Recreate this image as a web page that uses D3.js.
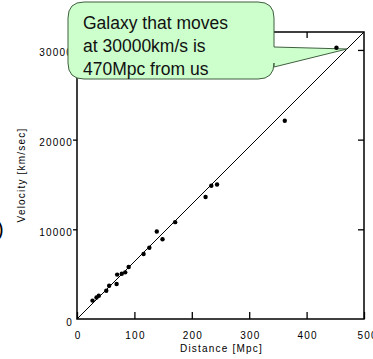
<!DOCTYPE html>
<html>
<head>
<meta charset="utf-8">
<script src="https://cdn.jsdelivr.net/npm/d3@7"></script>
<style>
  body { margin: 0; background: #fff; }
  svg { display: block; }
  .eje text { font-family: "Liberation Sans", Arial, sans-serif; font-size: 10px; letter-spacing: 1.2px; fill: #000; }
  .etiqueta { font-family: "Liberation Sans", Arial, sans-serif; font-size: 10px; letter-spacing: 1.2px; fill: #000; }
  .globo text { font-family: "Liberation Sans", Arial, sans-serif; font-size: 17.5px; fill: #111; }
</style>
</head>
<body>
<svg id="grafico" width="373" height="359"></svg>
<script>
// datos (distancia en Mpc, velocidad en km/s)
const distancia = [27, 34, 38, 51, 56, 69, 70, 78, 84, 90, 116, 126, 139, 149, 171, 224, 234, 244, 362, 452];
const velocidad = [2050, 2400, 2600, 3150, 3700, 3900, 4950, 5050, 5200, 5800, 7250, 7950, 9750, 8900, 10800, 13600, 14850, 15000, 22100, 30250];

const linea_hubble = [[0, 0], [500, 32000]];

const ticks_x = [0, 100, 200, 300, 400, 500];
const ticks_y = [0, 10000, 20000, 30000];

const texto_globo = ['Galaxy that moves', 'at 30000km/s is', '470Mpc from us'];

const margen = {top: 32, right: 9, bottom: 40, left: 77};
const ancho = 373, alto = 359;

const svg = d3.select('#grafico');

const x = d3.scaleLinear().domain([0, 500]).range([margen.left, ancho - margen.right]);
const y = d3.scaleLinear().domain([0, 32000]).range([alto - margen.bottom, margen.top]);

// ejes
const ejeX = svg.append('g')
    .attr('class', 'eje')
    .attr('transform', `translate(0,${y(0)})`)
    .call(d3.axisBottom(x).tickValues(ticks_x).tickSize(-7).tickPadding(13).tickFormat(d3.format('d')));
ejeX.selectAll('.tick text').attr('text-anchor', d => d == 500 ? 'start' : 'middle')
    .attr('dx', d => d == 500 ? -7 : 0.6);

const ejeY = svg.append('g')
    .attr('class', 'eje')
    .attr('transform', `translate(${x(0)},0)`)
    .call(d3.axisLeft(y).tickValues(ticks_y).tickSize(4).tickPadding(0).tickFormat(d3.format('d')));
ejeY.selectAll('.tick text').attr('dy', '0.6em');
ejeY.selectAll('.tick').filter(d => d == 0).select('line').remove();

svg.append('g')
    .attr('transform', `translate(0,${y(32000)})`)
    .call(d3.axisTop(x).tickValues(ticks_x.slice(1, -1)).tickSize(-6).tickFormat(''));

svg.append('g')
    .attr('transform', `translate(${x(500)},0)`)
    .call(d3.axisRight(y).tickValues(ticks_y.slice(1)).tickSize(-6).tickFormat(''));

svg.selectAll('.domain').remove();
svg.selectAll('.tick line').attr('stroke', '#000').attr('stroke-width', 1.3);

// caja
svg.append('rect')
    .attr('x', x(0)).attr('y', y(32000))
    .attr('width', x(500) - x(0)).attr('height', y(0) - y(32000))
    .attr('fill', 'none').attr('stroke', '#000').attr('stroke-width', 1.5);

// recta de Hubble
svg.append('path')
    .datum(linea_hubble)
    .attr('d', d3.line().x(d => x(d[0])).y(d => y(d[1])))
    .attr('stroke', '#000').attr('stroke-width', 1).attr('fill', 'none');

// titulos de ejes
svg.append('text')
    .attr('class', 'etiqueta')
    .attr('x', (x(0) + x(500)) / 2 + 1).attr('y', 352)
    .attr('text-anchor', 'middle')
    .text('Distance [Mpc]');

svg.append('text')
    .attr('class', 'etiqueta')
    .attr('transform', 'translate(25,175) rotate(-90)')
    .attr('text-anchor', 'middle')
    .text('Velocity [km/sec]');

// restos del borde izquierdo
svg.append('text')
    .attr('x', -3).attr('y', 236)
    .attr('font-family', 'Liberation Sans, Arial, sans-serif')
    .attr('font-size', 20)
    .text(')');

// globo
const g = {x0: 68, y0: 2, x1: 274, y1: 79, r: 16, colaA: 47, colaB: 67};
const punta = [347, 49];
const globo = svg.append('g').attr('class', 'globo');
globo.append('path')
    .attr('d', `M${g.x0 + g.r},${g.y0} H${g.x1 - g.r} Q${g.x1},${g.y0} ${g.x1},${g.y0 + g.r}
        V${g.colaA} L${punta[0]},${punta[1]} L${g.x1},${g.colaB}
        V${g.y1 - g.r} Q${g.x1},${g.y1} ${g.x1 - g.r},${g.y1}
        H${g.x0 + g.r} Q${g.x0},${g.y1} ${g.x0},${g.y1 - g.r}
        V${g.y0 + g.r} Q${g.x0},${g.y0} ${g.x0 + g.r},${g.y0} Z`)
    .attr('fill', '#ccffcc')
    .attr('stroke', '#3f5f3f')
    .attr('stroke-width', 1);

globo.selectAll('text')
    .data(texto_globo)
    .join('text')
    .attr('x', 83)
    .attr('y', (d, i) => 28.5 + i * 23.3)
    .text(d => d);

// puntos
svg.append('g')
    .selectAll('circle')
    .data(distancia)
    .join('circle')
    .attr('cx', (d, i) => x(d))
    .attr('cy', (d, i) => y(velocidad[i]))
    .attr('r', 2.2)
    .attr('fill', '#000');
</script>
</body>
</html>
